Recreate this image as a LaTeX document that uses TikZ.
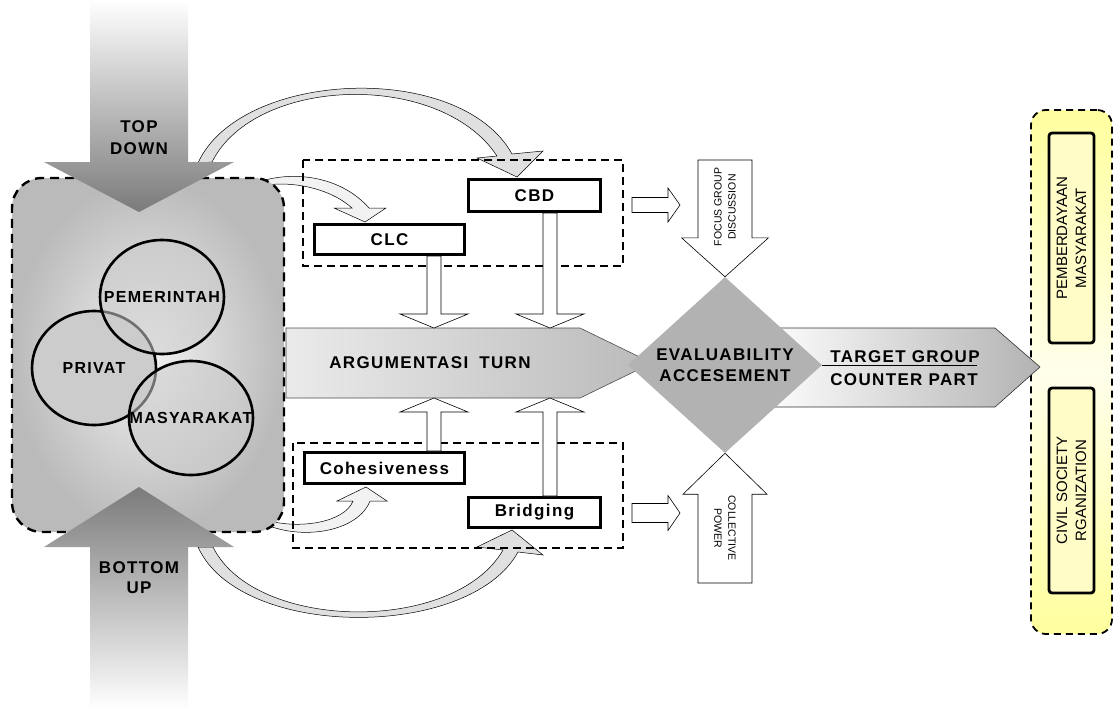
\documentclass[tikz,border=0pt]{standalone}
\usepackage{fontspec}
\setmainfont{Liberation Sans}
\newfontfamily\spaced[LetterSpace=8]{Liberation Sans}
\usetikzlibrary{calc,shapes.geometric}

% block arrow: from, to, shaft half width, head half width, head length
\newcommand{\hollowarrow}[5]{%
  \path ($(#2)!#5!(#1)$) coordinate (hb);
  \draw[hollow] ($(#1)!#3!90:(#2)$) -- ($(hb)!#3!90:(#2)$) -- ($(hb)!#4!90:(#2)$) -- (#2)
    -- ($(hb)!#4!-90:(#2)$) -- ($(hb)!#3!-90:(#2)$) -- ($(#1)!#3!-90:(#2)$) -- cycle;}

\begin{document}
\begin{tikzpicture}[x=1pt, y=-1pt,
  lbl/.style={font=\spaced\bfseries\fontsize{17}{21}\selectfont, align=center, inner sep=0pt},
  stagebox/.style={draw, line width=3pt, fill=white, lbl},
  frame/.style={draw, dash pattern=on 8pt off 5pt, line width=1.5pt},
  hollow/.style={draw, line width=0.6pt, fill=white},
  curvearrow/.style={draw, line width=0.5pt, fill=black!12},
  venn/.style={ellipse, draw, line width=2.6pt, minimum width=124, minimum height=114,
    inner sep=0pt, fill=black!20},
  vennlbl/.style={font=\spaced\bfseries\fontsize{16}{18}\selectfont, inner sep=0pt},
  side/.style={font=\fontsize{10.5}{14}\selectfont, align=center, inner sep=0pt},
  orgbox/.style={draw, line width=2.8pt, rounded corners=3pt, fill=yellow!22, align=center,
    font=\fontsize{15}{19}\selectfont, inner sep=0pt}]

  \useasboundingbox (0,0) rectangle (1113,709);

  % curved arrows
  \path[curvearrow] (198,163) .. controls (240,70) and (460,60) .. (512,154) -- (543,151) -- (517,177)
    -- (477,158) -- (497,156) .. controls (440,70) and (255,76) .. (212,162) -- cycle;
  \path[curvearrow] (198,547) .. controls (240,640) and (470,640) .. (518,552) -- (543,555) -- (512,530)
    -- (477,547) -- (503,550) .. controls (455,634) and (255,632) .. (213,547) -- cycle;
  \path[curvearrow, fill=black!5] (256,183) .. controls (290,170) and (340,175) .. (369,208) -- (386,208)
    -- (365,222) -- (334,208) -- (352,208) .. controls (330,188) and (290,180) .. (261,186) -- cycle;
  \path[curvearrow, fill=black!5] (260,522) .. controls (300,542) and (358,532) .. (370,501) -- (387,501)
    -- (366,487) -- (337,501) -- (353,501) .. controls (345,522) and (300,530) .. (266,520) -- cycle;

  % actors
  \node[draw, dash pattern=on 9pt off 6pt, line width=2.4pt, rounded corners=30pt,
    minimum width=272, minimum height=354, inner color=black!5, outer color=black!27] (actors) at (148,355) {};
  \node[venn] (privat) at (94,368) {};
  \node[venn, fill opacity=0.55] (pemerintah) at (162,297) {};
  \node[venn, fill opacity=0.55] (masyarakat) at (191,418) {};
  \node[vennlbl] (privatlbl) at (privat) {PRIVAT};
  \node[vennlbl] (pemerintahlbl) at (pemerintah) {PEMERINTAH};
  \node[vennlbl] (masyarakatlbl) at (masyarakat) {MASYARAKAT};

  % main arrow
  \shadedraw[left color=black!8, right color=black!27, draw=black!70, line width=0.6pt]
    (286,328) coordinate (turnNW) -- (580,328) -- (652,363) coordinate (turntip)
    -- (580,398) -- (286,398) coordinate (turnSW) -- cycle;
  \node[lbl] (turn) at (430,363) {ARGUMENTASI\hspace{5pt} TURN};

  % top down / bottom up
  \shade[top color=white, bottom color=black!52] (90,0) -- (90,162) -- (44,162) -- (139,212)
    -- (234,162) -- (188,162) -- (188,0) -- cycle;
  \node[lbl, font=\spaced\bfseries\fontsize{17}{22}\selectfont] (topdown) at (139,138) {TOP\\DOWN};
  \shade[top color=black!52, bottom color=white] (90,709) -- (90,547) -- (44,547) -- (139,487)
    -- (234,547) -- (188,547) -- (188,709) -- cycle;
  \node[lbl, font=\spaced\bfseries\fontsize{17}{20}\selectfont] (bottomup) at (139,578) {BOTTOM\\UP};

  % stages
  \draw[frame] (303,160) rectangle (623,266);
  \draw[frame] (293,443) rectangle (623,548);
  \node[stagebox, minimum width=150, minimum height=30] (clc) at (389.5,239.5) {CLC};
  \node[stagebox, minimum width=132, minimum height=32] (cbd) at (534.5,195.5) {CBD};
  \node[stagebox, minimum width=160, minimum height=31] (coh) at (384.5,468) {Cohesiveness};
  \node[stagebox, minimum width=132, minimum height=30] (bridge) at (534.5,512.5) {Bridging};

  \coordinate (colA) at (434,0);
  \coordinate (colB) at (550,0);
  \hollowarrow{clc.south -| colA}{colA |- turnNW}{7pt}{34pt}{14pt}
  \hollowarrow{cbd.south -| colB}{colB |- turnNW}{7pt}{34pt}{14pt}
  \hollowarrow{coh.north -| colA}{colA |- turnSW}{7pt}{34pt}{14pt}
  \hollowarrow{bridge.north -| colB}{colB |- turnSW}{7pt}{34pt}{14pt}
  \hollowarrow{632,205}{680,205}{7.5pt}{17pt}{12pt}
  \hollowarrow{632,513}{680,513}{9.5pt}{17.5pt}{12pt}

  % organisations
  \node[draw, dash pattern=on 7pt off 5pt, line width=1.8pt, rounded corners=15pt,
    minimum width=81, minimum height=524, top color=yellow!38, bottom color=yellow!38,
    middle color=yellow!8] (cso) at (1071.5,372) {};
  \node[orgbox, rotate=90, minimum width=210, minimum height=45] (pemb) at (1071.5,238)
    {PEMBERDAYAAN\\MASYARAKAT};
  \node[orgbox, rotate=90, minimum width=205, minimum height=45] (civil) at (1071.5,490.5)
    {CIVIL SOCIETY\\RGANIZATION};

  % target group
  \shadedraw[left color=white, right color=black!30, draw=black!80, line width=0.6pt]
    (760,328) -- (995,328) -- (1040,367) coordinate (tgttip) -- (995,407) -- (760,407) -- cycle;

  % evaluation
  \node[diamond, aspect=1.1, fill=black!30, minimum width=194, minimum height=176, lbl] (eval)
    at (725,365) {EVALUABILITY\\ACCESEMENT};
  \draw[line width=0.6pt] (eval.east) -- ++(155,0);
  \node[lbl, anchor=base] (tgt) at (905,362) {TARGET GROUP};
  \node[lbl, anchor=base] (cpart) at (904,385) {COUNTER PART};

  \hollowarrow{725,160}{eval.north}{27pt}{43.5pt}{39pt}
  \node[side, rotate=90] (fgd) at (725,207) {FOCUS GROUP\\DISCUSSION};
  \hollowarrow{725,583}{eval.south}{27pt}{42pt}{41pt}
  \node[side, rotate=-90] (cpow) at (725,528) {COLLECTIVE\\POWER};
\end{tikzpicture}
\end{document}
